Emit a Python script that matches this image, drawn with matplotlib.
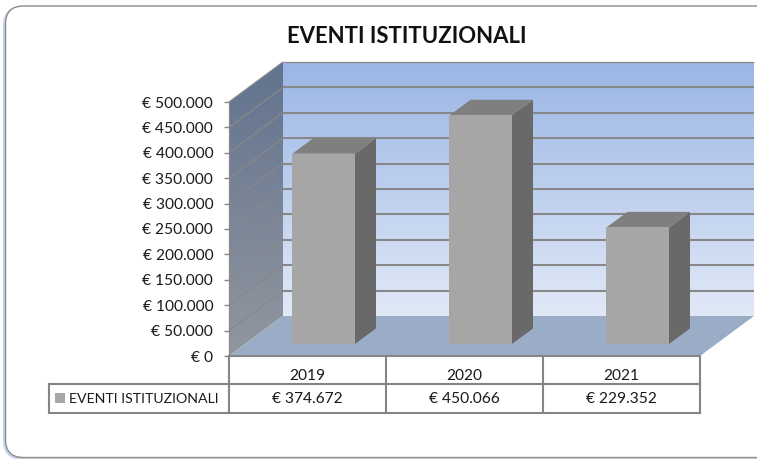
#!/usr/bin/env python3
"""EVENTI ISTITUZIONALI: fake 3D column chart with a data table underneath."""

import numpy as np
import matplotlib
matplotlib.use('Agg')
import matplotlib.pyplot as plt
from matplotlib.colors import LinearSegmentedColormap
from matplotlib.patches import FancyBboxPatch, Polygon, Rectangle
from matplotlib.transforms import Affine2D

plt.rcParams['font.family'] = ['Lato', 'DejaVu Sans']

TITLE = 'EVENTI ISTITUZIONALI'
YEARS = ['2019', '2020', '2021']
VALUES = [374672, 450066, 229352]
VALUE_LABELS = ['€ 374.672', '€ 450.066', '€ 229.352']
YTICKS = [0, 50000, 100000, 150000, 200000, 250000, 300000, 350000, 400000, 450000, 500000]
YTICK_LABELS = ['€ 0', '€ 50.000', '€ 100.000', '€ 150.000', '€ 200.000', '€ 250.000',
                '€ 300.000', '€ 350.000', '€ 400.000', '€ 450.000', '€ 500.000']

W, H = 757, 459
# plot box in pixels
X0, X3, Y0, Y500 = 229, 700, 356, 102
PX_X = (X3 - X0) / 3
PX_Y = (Y0 - Y500) / 500000
# depth of the floor, in data units
DX, DY = 54 / PX_X, 40 / PX_Y
BAR_W = 62.5 / PX_X
BAR_START = 0.3
BAR_DEPTH = 0.39

GRID = '#888888'
TABLE = '#858585'
TEXT = '#1a1a1a'


def wall(ax, corners, top, bottom, zorder):
    """Polygon filled with a vertical gradient."""
    cmap = LinearSegmentedColormap.from_list('wall', [bottom, top])
    xs = [c[0] for c in corners]
    ys = [c[1] for c in corners]
    img = ax.imshow(np.linspace(1, 0, 128).reshape(-1, 1), cmap=cmap, aspect='auto',
                    extent=(min(xs), max(xs), min(ys), max(ys)), zorder=zorder,
                    interpolation='bilinear')
    clip = Polygon(corners, closed=True, transform=ax.transData, facecolor='none', edgecolor='none')
    ax.add_patch(clip)
    img.set_clip_path(clip)


def main():
    fig = plt.figure(figsize=(W / 100, H / 100), dpi=100, facecolor='white')
    ax = fig.add_axes([0, 0, 1, 1])
    xlim = (-X0 / PX_X, (W - X0) / PX_X)
    ylim = (-(H - Y0) / PX_Y, Y0 / PX_Y)

    # chart frame, in pixels (runs off the right edge), behind the axes
    px = Affine2D().scale(1, -1).translate(0, H)
    fig.add_artist(FancyBboxPatch((4.5, 7.5), 780, 451, boxstyle='round,pad=0,rounding_size=18',
                                  transform=px, facecolor='none', edgecolor='#c5d5ea', linewidth=2.2,
                                  zorder=-3))
    fig.add_artist(FancyBboxPatch((5.5, 6), 780, 451.5, boxstyle='round,pad=0,rounding_size=18',
                                  transform=px, facecolor='white', edgecolor='#8c8c8c', linewidth=1.0,
                                  zorder=-2))
    fig.add_artist(plt.Line2D([24, W], [457.6, 457.6], transform=px, color='#c4c4c4', linewidth=1.0,
                              zorder=-1))
    ax.patch.set_visible(False)

    top = 500000
    wall(ax, [(DX, DY), (3 + DX, DY), (3 + DX, top + DY), (DX, top + DY)], '#9ab6e5', '#e1e9f7', 1)
    wall(ax, [(0, 0), (DX, DY), (DX, top + DY), (0, top)], '#62738f', '#92979f', 1)
    ax.add_patch(Polygon([(0, 0), (3, 0), (3 + DX, DY), (DX, DY)], closed=True,
                         facecolor='#9badc6', edgecolor='none', zorder=2))

    for v in YTICKS[1:]:
        ax.plot([0, DX], [v, v + DY], color=GRID, linewidth=0.9, zorder=3, solid_capstyle='butt')
        lw = 0.9 if v == top else 1.5
        ax.plot([DX, 3 + DX], [v + DY, v + DY], color=GRID, linewidth=lw, zorder=3,
                solid_capstyle='butt')

    # columns
    for i, val in enumerate(VALUES):
        xl = i + 0.5 - BAR_W / 2 + BAR_START * DX
        xr = xl + BAR_W
        yb = BAR_START * DY
        yt = yb + val
        ox, oy = BAR_DEPTH * DX, BAR_DEPTH * DY
        ax.add_patch(Polygon([(xr, yb), (xr + ox, yb + oy), (xr + ox, yt + oy), (xr, yt)],
                             closed=True, facecolor='#696969', edgecolor='none', zorder=4))
        ax.add_patch(Polygon([(xl, yt), (xr, yt), (xr + ox, yt + oy), (xl + ox, yt + oy)],
                             closed=True, facecolor='#7f7f7f', edgecolor='none', zorder=4))
        ax.add_patch(Rectangle((xl, yb), BAR_W, val, facecolor='#a6a6a6', edgecolor='none', zorder=5))

    # value axis at x=0
    for name in ('top', 'right', 'bottom'):
        ax.spines[name].set_visible(False)
    ax.spines['left'].set_position(('data', 0))
    ax.spines['left'].set_bounds(0, top)
    ax.spines['left'].set_color(GRID)
    ax.spines['left'].set_linewidth(0.9)
    ax.spines['left'].set_zorder(6)
    ax.set_xticks([])
    ax.set_yticks(YTICKS, YTICK_LABELS)
    ax.tick_params(axis='y', length=3.4, width=1.0, color=GRID, pad=8, labelsize=11.2,
                   labelcolor=TEXT)
    ax.set_xlim(xlim)
    ax.set_ylim(ylim)

    # data table below the plot
    row1 = -(383.5 - Y0) / PX_Y
    row2 = -(412.7 - Y0) / PX_Y
    left = -(X0 - 49) / PX_X
    year_y = -(375.5 - Y0) / PX_Y
    value_y = -(399 - Y0) / PX_Y
    tkw = dict(color=TABLE, linewidth=1.5, zorder=6, solid_capstyle='projecting')
    ax.plot([0, 3], [0, 0], **tkw)
    ax.plot([left, 3], [row1, row1], **tkw)
    ax.plot([left, 3], [row2, row2], **tkw)
    ax.plot([left, left], [row1, row2], **tkw)
    for i in range(4):
        ax.plot([i, i], [0, row2], **tkw)
    for i, (year, label) in enumerate(zip(YEARS, VALUE_LABELS)):
        ax.text(i + 0.5, year_y, year, ha='center', va='center', fontsize=11.2, color=TEXT)
        ax.text(i + 0.5, value_y, label, ha='center', va='center', fontsize=11.2, color=TEXT)

    ax.add_patch(Rectangle((-(X0 - 55) / PX_X, -(403 - Y0) / PX_Y), 10 / PX_X, 10 / PX_Y,
                           facecolor='#a6a6a6', edgecolor='none', zorder=6))
    ax.text(-(X0 - 69) / PX_X, value_y, TITLE, ha='left', va='center',
            fontsize=10.2, color=TEXT)

    ax.text((407 - X0) / PX_X, (Y0 - 36.5) / PX_Y, TITLE, ha='center', va='center',
            fontsize=15.9, fontweight='bold', color='#111111')

    fig.savefig('out.png', dpi=100, facecolor='white')


if __name__ == '__main__':
    main()
